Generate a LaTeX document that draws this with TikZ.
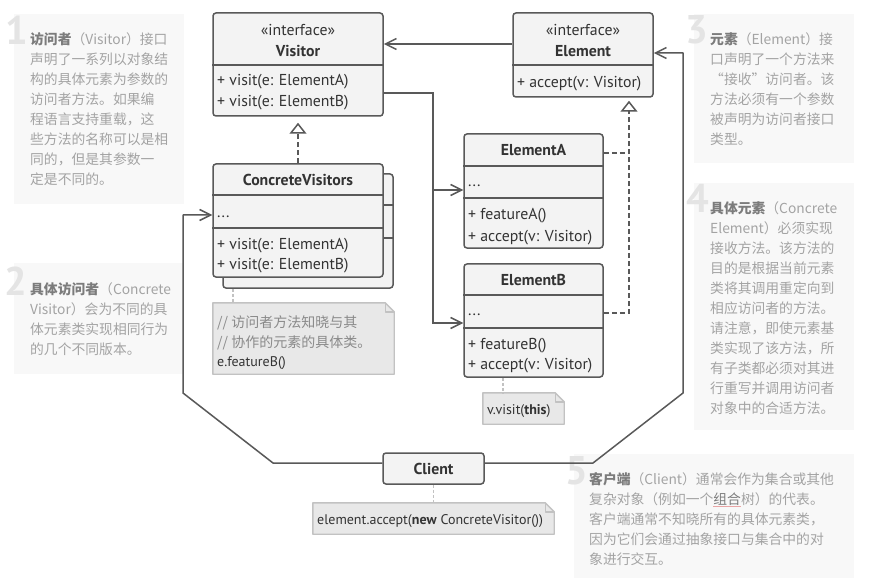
\documentclass[tikz,border=0pt]{standalone}
\usepackage{fontspec}
\setmainfont{PT Sans}
\newfontfamily\cjk{Noto Sans CJK SC}
\usetikzlibrary{arrows.meta,calc}
\definecolor{lineC}{HTML}{595959}
\definecolor{boxF}{HTML}{F3F3F3}
\definecolor{textC}{HTML}{333333}
\definecolor{noteF}{HTML}{E8E8E8}
\definecolor{noteD}{HTML}{C2C2C2}
\definecolor{noteT}{HTML}{8A8A8A}
\definecolor{panelF}{HTML}{F8F8F8}
\definecolor{panelT}{HTML}{A3A3A3}
\definecolor{titleC}{HTML}{7C7C7C}
\definecolor{numC}{HTML}{E4E4E4}
\definecolor{linkC}{HTML}{E9A5A5}
\tikzset{
  umlbox/.style={draw=lineC, fill=boxF, line width=1.5bp, rounded corners=3bp, inner sep=0},
  divline/.style={draw=lineC, line width=1.5bp},
  mtext/.style={inner sep=0, text=textC, font=\fontsize{15.8bp}{18bp}\selectfont, text height=12bp, text depth=1bp},
  ttext/.style={mtext, font=\fontsize{15.8bp}{18bp}\selectfont\bfseries},
  conn/.style={draw=lineC, line width=1.5bp},
  assoc/.style={conn, -{Straight Barb[length=11bp,width=11bp,line width=1.5bp]}},
  dashline/.style={conn, dash pattern=on 5bp off 3bp},
  realize/.style={dashline, -{Triangle[open,length=11bp,width=17bp,line width=1.5bp]}},
  notebg/.style={fill=noteF, draw=noteD, line width=1.4bp, line join=round},
  notelink/.style={draw=noteD, line width=1.4bp, dash pattern=on 3bp off 2bp},
  notearea/.style={inner sep=0, draw=none},
  ntext/.style={inner sep=0, anchor=west, text=textC, font=\fontsize{14bp}{16bp}\selectfont, text height=11bp, text depth=1bp},
  panel/.style={fill=panelF, draw=none, inner sep=0},
  ptext/.style={inner sep=0, anchor=north west, align=left, text=panelT, font=\cjk\fontsize{13.8bp}{20bp}\selectfont},
  pnum/.style={inner sep=0, anchor=base west, text=numC, font=\fontsize{40bp}{40bp}\selectfont\bfseries},
}
\begin{document}
\begin{tikzpicture}[x=1bp,y=-1bp]
\useasboundingbox[fill=white] (0,0) rectangle (878,585);

% ---------- side panels ----------
\node[panel, minimum width=170bp, minimum height=190bp] (p1) at (99,109) {};
\node[panel, minimum width=170bp, minimum height=111bp] (p2) at (99,318.5) {};
\node[panel, minimum width=160bp, minimum height=149bp] (p3) at (774,88.5) {};
\node[panel, minimum width=160bp, minimum height=247bp] (p4) at (774,306.5) {};
\node[panel, minimum width=280bp, minimum height=124bp] (p5) at (714,516) {};

\node[pnum] (n1num) at (5,45) {1};
\node[pnum] (n2num) at (4,295) {2};
\node[pnum] (n3num) at (685,44) {3};
\node[pnum] (n4num) at (686,213) {4};
\node[pnum] (n5num) at (565,484) {5};

\node[ptext] (t1) at (30,32) {{\color{titleC}\bfseries 访问者}（Visitor）接口\\声明了一系列以对象结\\构的具体元素为参数的\\访问者方法。如果编\\程语言支持重载，这\\些方法的名称可以是相\\同的，但是其参数一\\定是不同的。};
\node[ptext] (t2) at (30,282) {{\color{titleC}\bfseries 具体访问者}（Concrete\\Visitor）会为不同的具\\体元素类实现相同行为\\的几个不同版本。};
\node[ptext] (t3) at (710,32) {{\color{titleC}\bfseries 元素}（Element）接\\口声明了一个方法来\\“接收”访问者。该\\方法必须有一个参数\\被声明为访问者接口\\类型。};
\node[ptext] (t4) at (710,201) {{\color{titleC}\bfseries 具体元素}（Concrete\\Element）必须实现\\接收方法。该方法的\\目的是根据当前元素\\类将其调用重定向到\\相应访问者的方法。\\请注意，即使元素基\\类实现了该方法，所\\有子类都必须对其进\\行重写并调用访问者\\对象中的合适方法。};
\node[ptext] (t5) at (589,472) {{\color{titleC}\bfseries 客户端}（Client）通常会作为集合或其他\\复杂对象（例如一个{\color{linkC}\underline{\color{titleC}组合}}树）的代表。\\客户端通常不知晓所有的具体元素类，\\因为它们会通过抽象接口与集合中的对\\象进行交互。};

% ---------- UML boxes ----------
\node[umlbox, minimum width=170bp, minimum height=103bp] (visitor) at (298,64.5) {};
\draw[divline] (visitor.west |- 0,65) -- (visitor.east |- 0,65);
\node[mtext] (vst) at (298,30) {«interface»};
\node[ttext] (vtitle) at (298,51) {Visitor};
\node[mtext, anchor=west] (vm1) at (217,80) {+ visit(e: ElementA)};
\node[mtext, anchor=west] (vm2) at (217,101) {+ visit(e: ElementB)};

\node[umlbox, minimum width=140bp, minimum height=84bp] (element) at (583,55) {};
\draw[divline] (element.west |- 0,65) -- (element.east |- 0,65);
\node[mtext] (est) at (583,30) {«interface»};
\node[ttext] (etitle) at (583,51) {Element};
\node[mtext, anchor=west] (em1) at (517,82) {+ accept(v: Visitor)};

\node[umlbox, minimum width=170bp, minimum height=114bp] (cvb) at (308,231) {};
\draw[divline] (cvb.west |- 0,205) -- (cvb.east |- 0,205);
\draw[divline] (cvb.west |- 0,238) -- (cvb.east |- 0,238);
\node[umlbox, minimum width=170bp, minimum height=113bp] (cvf) at (298,220.5) {};
\draw[divline] (cvf.west |- 0,195) -- (cvf.east |- 0,195);
\draw[divline] (cvf.west |- 0,228) -- (cvf.east |- 0,228);
\node[ttext] (cvtitle) at (298,180) {ConcreteVisitors};
\node[mtext, anchor=west] (cvd) at (217,212) {...};
\node[mtext, anchor=west] (cvm1) at (217,244) {+ visit(e: ElementA)};
\node[mtext, anchor=west] (cvm2) at (217,264) {+ visit(e: ElementB)};

\node[umlbox, minimum width=139bp, minimum height=114bp] (elemA) at (533.5,191) {};
\draw[divline] (elemA.west |- 0,166) -- (elemA.east |- 0,166);
\draw[divline] (elemA.west |- 0,198) -- (elemA.east |- 0,198);
\node[ttext] (eAt) at (533.5,150) {ElementA};
\node[mtext, anchor=west] (eAd) at (468,181) {...};
\node[mtext, anchor=west] (eAm1) at (468,214) {+ featureA()};
\node[mtext, anchor=west] (eAm2) at (468,236) {+ accept(v: Visitor)};

\node[umlbox, minimum width=139bp, minimum height=113bp] (elemB) at (533.5,320.5) {};
\draw[divline] (elemB.west |- 0,295) -- (elemB.east |- 0,295);
\draw[divline] (elemB.west |- 0,328) -- (elemB.east |- 0,328);
\node[ttext] (eBt) at (533.5,280) {ElementB};
\node[mtext, anchor=west] (eBd) at (468,310) {...};
\node[mtext, anchor=west] (eBm1) at (468,344) {+ featureB()};
\node[mtext, anchor=west] (eBm2) at (468,364) {+ accept(v: Visitor)};

\node[umlbox, minimum width=101bp, minimum height=31bp] (client) at (433.5,468.5) {};
\node[ttext] (clt) at (433.5,469) {Client};

% ---------- notes ----------
\node[notearea, minimum width=181bp, minimum height=71bp] (n1) at (303.5,338.5) {};
\node[notearea, minimum width=81bp, minimum height=31bp] (n2) at (523.5,408.5) {};
\node[notearea, minimum width=241bp, minimum height=31bp] (n3) at (433.5,518.5) {};
\foreach \n in {n1,n2,n3}{
  \path[notebg] (\n.north west) -- ($(\n.north east)+(-9,0)$) -- ($(\n.north east)+(0,9)$) -- (\n.south east) -- (\n.south west) -- cycle;
  \draw[draw=noteD, line width=1.4bp, line join=round] ($(\n.north east)+(-9,0)$) -- ($(\n.north east)+(-9,9)$) -- ($(\n.north east)+(0,9)$);
}
\node[ntext, text=noteT, font=\cjk\fontsize{14bp}{16bp}\selectfont] (n1a) at (217,322) {// 访问者方法知晓与其};
\node[ntext, text=noteT, font=\cjk\fontsize{14bp}{16bp}\selectfont] (n1b) at (217,342) {// 协作的元素的具体类。};
\node[ntext] (n1c) at (217,361) {e.featureB()};
\node[ntext] (n2a) at (487,409) {v.visit(\textbf{this})};
\node[ntext] (n3a) at (317,519) {element.accept(\textbf{new} ConcreteVisitor())};

\draw[notelink] (cvb.south -| 233,0) -- (n1.north -| 233,0);
\draw[notelink] (elemB.south -| 503,0) -- (n2.north -| 503,0);
\draw[notelink] (client.south) -- (n3.north);

% ---------- connectors ----------
\draw[assoc] (element.west |- 0,44) -- (visitor.east |- 0,44);

\coordinate (vj) at (433,93);
\coordinate (aj) at (433,190);
\coordinate (bj) at (433,323);
\draw[assoc] (visitor.east |- vj) -- (vj) -- (bj) -- (elemB.west |- bj);
\draw[assoc] (aj) -- (elemA.west |- aj);

\draw[realize, shorten >=6bp] (cvf.north) -- (visitor.south);

\coordinate (ra) at (629,153);
\coordinate (rb) at (629,313);
\draw[dashline] (elemA.east |- ra) -- (ra);
\draw[realize, shorten >=3bp] (elemB.east |- rb) -- (rb) -- (element.south -| rb);

\coordinate (cl1) at (273,463);
\coordinate (cl2) at (183,393);
\coordinate (cl3) at (183,215);
\draw[assoc, line join=round] (client.west |- cl1) -- (cl1) -- (cl2) -- (cl3) -- (cvf.west |- cl3);
\coordinate (cr1) at (593,463);
\coordinate (cr2) at (683,393);
\coordinate (cr3) at (683,53);
\draw[assoc, line join=round] (client.east |- cr1) -- (cr1) -- (cr2) -- (cr3) -- (element.east |- cr3);
\end{tikzpicture}
\end{document}
